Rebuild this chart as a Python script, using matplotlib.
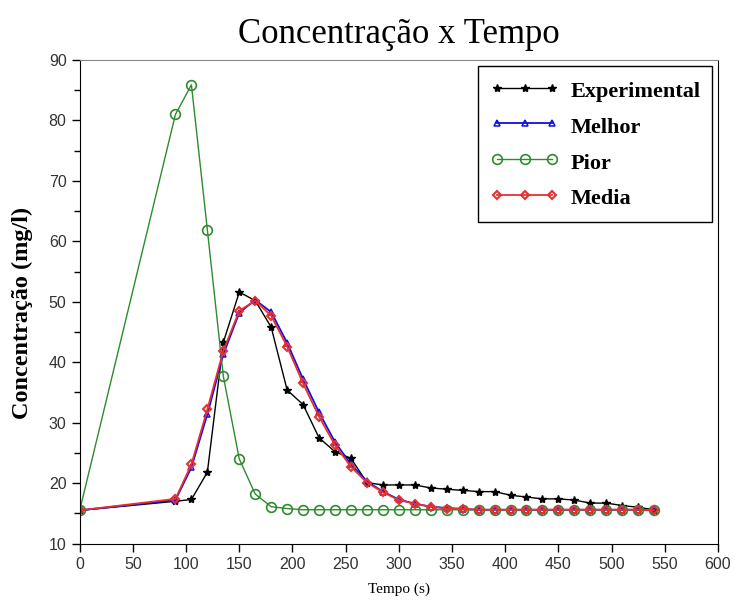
import matplotlib
matplotlib.use("Agg")
import matplotlib.pyplot as plt
from matplotlib.ticker import MultipleLocator

# tempo (s)
t = [0, 90, 105, 120, 135, 150, 165, 180, 195, 210, 225, 240, 255, 270, 285, 300,
     315, 330, 345, 360, 375, 390, 405, 420, 435, 450, 465, 480, 495, 510, 525, 540]

experimental = [15.5, 17.0, 17.3, 21.8, 43.3, 51.6, 50.2, 45.8, 35.4, 33.0, 27.5, 25.2,
                24.1, 20.1, 19.7, 19.7, 19.7, 19.2, 19.0, 18.8, 18.6, 18.6, 18.0, 17.7,
                17.4, 17.4, 17.2, 16.7, 16.7, 16.3, 16.0, 15.6]

melhor = [15.5, 17.2, 22.6, 31.4, 41.3, 48.2, 50.3, 48.3, 43.2, 37.2, 31.7, 26.8,
          23.1, 20.3, 18.6, 17.3, 16.6, 16.1, 15.9, 15.7, 15.6, 15.6, 15.6, 15.6,
          15.6, 15.6, 15.6, 15.6, 15.6, 15.6, 15.6, 15.5]

pior = [15.5, 81.0, 85.9, 61.9, 37.7, 24.0, 18.2, 16.1, 15.8, 15.6, 15.6, 15.6,
        15.6, 15.6, 15.6, 15.6, 15.6, 15.6, 15.6, 15.6, 15.6, 15.6, 15.6, 15.6,
        15.6, 15.6, 15.6, 15.6, 15.6, 15.6, 15.6, 15.5]

media = [15.5, 17.4, 23.1, 32.2, 41.9, 48.5, 50.2, 47.7, 42.6, 36.5, 31.0, 26.3,
         22.7, 20.1, 18.5, 17.2, 16.6, 16.1, 15.8, 15.8, 15.6, 15.6, 15.6, 15.6,
         15.6, 15.6, 15.6, 15.6, 15.6, 15.6, 15.6, 15.5]

serif = ['Liberation Serif', 'DejaVu Serif']
tickfont = ['Liberation Sans Narrow', 'Liberation Sans', 'DejaVu Sans']

fig = plt.figure(figsize=(7.36, 6.15), dpi=100)
ax = fig.add_axes([0.1083, 0.1161, 0.8672, 0.7863])

ax.plot(t, experimental, '-', color='black', lw=1.0, marker='*', ms=6,
        label='Experimental')
ax.plot(t, melhor, '-', color='#1010e0', lw=1.3, marker='^', ms=5,
        mfc='none', mew=1.1, label='Melhor')
ax.plot(t, pior, '-', color='#2e8b2e', lw=1.0, marker='o', ms=7,
        mfc='none', mew=1.2, label='Pior')
ax.plot(t, media, '-', color='#e83030', lw=1.3, marker='D', ms=4.5,
        mfc='none', mew=1.5, label='Media')

ax.set_xlim(0, 600)
ax.set_ylim(10, 90)
ax.xaxis.set_major_locator(MultipleLocator(50))
ax.yaxis.set_major_locator(MultipleLocator(10))
ax.yaxis.set_minor_locator(MultipleLocator(5))
ax.tick_params(direction='out', length=6, width=1, labelsize=11.5)
ax.tick_params(which='minor', direction='out', length=4, width=1)
ax.tick_params(top=False, right=False)
for lab in ax.get_xticklabels() + ax.get_yticklabels():
    lab.set_family(tickfont)
    lab.set_color('#333333')
ax.spines['top'].set_color('#888888')

ax.set_title('Concentração x Tempo', family=serif, fontsize=25, pad=12)
ax.set_xlabel('Tempo (s)', family=serif, fontsize=11, labelpad=8)
ax.set_ylabel('Concentração (mg/l)', family=serif, fontsize=17.5,
              fontweight='bold')
ax.yaxis.set_label_coords(-0.073, 0.477)

leg = ax.legend(loc='upper right', bbox_to_anchor=(1.0, 1.0), numpoints=3,
                handlelength=3.1, handletextpad=0.5, handleheight=1.3,
                labelspacing=0.5, borderaxespad=0.25, borderpad=0.55,
                fancybox=False, framealpha=1, edgecolor='black',
                prop={'family': serif, 'size': 16, 'weight': 'bold'})
leg.get_frame().set_linewidth(1.0)

fig.savefig('out.png', dpi=100)
